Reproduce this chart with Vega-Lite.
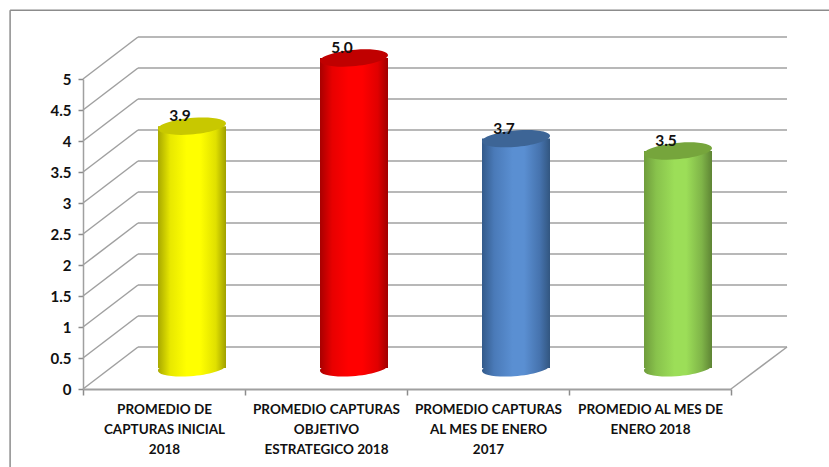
{
"$schema":"https://vega.github.io/schema/vega-lite/v6.json",
"autosize":"none","width":648,"height":310,
"padding":{"left":83,"top":79,"right":98,"bottom":78},
"background":"white",
"config":{"view":{"stroke":null}},
"datasets":{
"bars":[
{"name":"PROMEDIO DE|CAPTURAS INICIAL|2018","value":3.9,"s":"a"},
{"name":"PROMEDIO CAPTURAS|OBJETIVO|ESTRATEGICO 2018","value":5.0,"s":"b"},
{"name":"PROMEDIO CAPTURAS|AL MES DE ENERO|2017","value":3.7,"s":"c"},
{"name":"PROMEDIO AL MES DE|ENERO 2018","value":3.5,"s":"d"}],
"levels":[{"v":0},{"v":0.5},{"v":1},{"v":1.5},{"v":2},{"v":2.5},{"v":3},{"v":3.5},{"v":4},{"v":4.5},{"v":5}],
"frame":[{"left":-0.45,"right":4.61,"top":6.11,"bottom":-1.26}]
},
"layer":[
{"layer":[
{"data":{"name":"frame"},"mark":{"type":"rule","color":"#8c8c8c","strokeWidth":1.5},
 "encoding":{"x":{"field":"left","type":"quantitative","scale":{"domain":[0,4],"nice":false,"zero":false},"axis":null},
 "y":{"field":"top","type":"quantitative","scale":{"domain":[0,5],"nice":false},"axis":{"title":null,"values":[0,0.5,1,1.5,2,2.5,3,3.5,4,4.5,5],"tickCount":11,"format":".1~f","labelOverlap":false,"labelFont":"Lato","labelFontWeight":"bold","labelFontSize":15,"labelColor":"#111111","labelPadding":7,"tickSize":5,"tickColor":"#8c8c8c","tickWidth":1.5,"domainColor":"#a0a0a0","domainWidth":1.5,"grid":false}},"y2":{"field":"bottom"}}},
{"data":{"name":"frame"},"mark":{"type":"rule","color":"#8c8c8c","strokeWidth":1.5},
 "encoding":{"x":{"field":"left","type":"quantitative"},"x2":{"field":"right"},
 "y":{"field":"top","type":"quantitative"}}},
{"data":{"name":"levels"},
 "mark":{"type":"rule","color":"#a0a0a0","strokeWidth":1.5,"xOffset":55,"x2Offset":56,"yOffset":-42,"y2Offset":-42},
 "encoding":{"x":{"datum":0,"type":"quantitative"},"x2":{"datum":4},
 "y":{"field":"v","type":"quantitative"},"y2":{"field":"v"}}},
{"data":{"name":"levels"},
 "mark":{"type":"rule","color":"#a0a0a0","strokeWidth":1.5,"x2Offset":55,"y2Offset":-42},
 "encoding":{"x":{"datum":0,"type":"quantitative"},"x2":{"datum":0},
 "y":{"field":"v","type":"quantitative"},"y2":{"field":"v"}}},
{"data":{"values":[{"v":0}]},
 "mark":{"type":"rule","color":"#a0a0a0","strokeWidth":1.5,"x2Offset":56,"y2Offset":-42},
 "encoding":{"x":{"datum":4,"type":"quantitative"},"x2":{"datum":4},
 "y":{"field":"v","type":"quantitative"},"y2":{"field":"v"}}}
]},
{"data":{"name":"bars"},
"encoding":{
 "x":{"field":"name","type":"nominal","sort":null,"scale":{"paddingInner":0,"paddingOuter":0},
  "axis":{"orient":"bottom","title":null,"labelAngle":0,"labelExpr":"split(datum.label,'|')","labelFont":"Lato","labelFontWeight":"bold","labelFontSize":13.5,"labelColor":"#111111","labelLimit":175,"labelLineHeight":20,"labelPadding":7,"tickBand":"extent","tickSize":6,"tickColor":"#8c8c8c","tickWidth":1.5,"domainColor":"#a0a0a0","domainWidth":2,"grid":false}},
 "y":{"field":"value","type":"quantitative","axis":{"title":null,"values":[0,0.5,1,1.5,2,2.5,3,3.5,4,4.5,5],"tickCount":11,"format":".1~f","labelOverlap":false,"labelFont":"Lato","labelFontWeight":"bold","labelFontSize":15,"labelColor":"#111111","labelPadding":7,"tickSize":5,"tickColor":"#8c8c8c","tickWidth":1.5,"domainColor":"#a0a0a0","domainWidth":1.5,"grid":false}}
},
"layer":[
{"transform":[{"filter":"datum.s=='a'"}],"mark":{"type":"bar","width":68,"xOffset":28,"yOffset":-21,"y2Offset":-21,"color":{"gradient":"linear","x1":0,"x2":1,"y1":0,"y2":0,"stops":[{"offset":0,"color":"#a8a800"},{"offset":0.18,"color":"#e8e800"},{"offset":0.42,"color":"#ffff00"},{"offset":0.62,"color":"#ffff00"},{"offset":0.85,"color":"#e0e000"},{"offset":1,"color":"#a0a000"}]}}},
{"transform":[{"filter":"datum.s=='b'"}],"mark":{"type":"bar","width":68,"xOffset":28,"yOffset":-21,"y2Offset":-21,"color":{"gradient":"linear","x1":0,"x2":1,"y1":0,"y2":0,"stops":[{"offset":0,"color":"#a80000"},{"offset":0.18,"color":"#e80000"},{"offset":0.42,"color":"#ff0000"},{"offset":0.62,"color":"#ff0000"},{"offset":0.85,"color":"#e00000"},{"offset":1,"color":"#a00000"}]}}},
{"transform":[{"filter":"datum.s=='c'"}],"mark":{"type":"bar","width":68,"xOffset":28,"yOffset":-21,"y2Offset":-21,"color":{"gradient":"linear","x1":0,"x2":1,"y1":0,"y2":0,"stops":[{"offset":0,"color":"#335a8a"},{"offset":0.18,"color":"#4a7ab8"},{"offset":0.45,"color":"#5a8fd2"},{"offset":0.62,"color":"#5a8fd2"},{"offset":0.85,"color":"#4673ae"},{"offset":1,"color":"#325680"}]}}},
{"transform":[{"filter":"datum.s=='d'"}],"mark":{"type":"bar","width":68,"xOffset":28,"yOffset":-21,"y2Offset":-21,"color":{"gradient":"linear","x1":0,"x2":1,"y1":0,"y2":0,"stops":[{"offset":0,"color":"#6f9c3c"},{"offset":0.18,"color":"#88c24c"},{"offset":0.45,"color":"#9cde58"},{"offset":0.62,"color":"#9cde58"},{"offset":0.85,"color":"#7fb448"},{"offset":1,"color":"#5e8434"}]}}},
{"transform":[{"filter":"datum.s=='a'"}],"mark":{"type":"point","filled":true,"opacity":1,"size":4624,"xOffset":28,"shape":"M -1 0.07 A 1 0.24 -5 1 0 1 -0.07 A 1 0.24 -5 1 0 -1 0.07 Z","color":{"gradient":"linear","x1":0,"x2":1,"y1":0,"y2":0,"stops":[{"offset":0,"color":"#a8a800"},{"offset":0.18,"color":"#e8e800"},{"offset":0.42,"color":"#ffff00"},{"offset":0.62,"color":"#ffff00"},{"offset":0.85,"color":"#e0e000"},{"offset":1,"color":"#a0a000"}]}},"encoding":{"y":{"datum":0.34,"type":"quantitative"}}},
{"transform":[{"filter":"datum.s=='a'"}],"mark":{"type":"point","filled":true,"opacity":1,"size":4624,"xOffset":28,"yOffset":-21,"shape":"M -1 0.07 A 1 0.24 -5 1 0 1 -0.07 A 1 0.24 -5 1 0 -1 0.07 Z","color":"#c8c800"}},
{"transform":[{"filter":"datum.s=='b'"}],"mark":{"type":"point","filled":true,"opacity":1,"size":4624,"xOffset":28,"shape":"M -1 0.07 A 1 0.24 -5 1 0 1 -0.07 A 1 0.24 -5 1 0 -1 0.07 Z","color":{"gradient":"linear","x1":0,"x2":1,"y1":0,"y2":0,"stops":[{"offset":0,"color":"#a80000"},{"offset":0.18,"color":"#e80000"},{"offset":0.42,"color":"#ff0000"},{"offset":0.62,"color":"#ff0000"},{"offset":0.85,"color":"#e00000"},{"offset":1,"color":"#a00000"}]}},"encoding":{"y":{"datum":0.34,"type":"quantitative"}}},
{"transform":[{"filter":"datum.s=='b'"}],"mark":{"type":"point","filled":true,"opacity":1,"size":4624,"xOffset":28,"yOffset":-21,"shape":"M -1 0.07 A 1 0.24 -5 1 0 1 -0.07 A 1 0.24 -5 1 0 -1 0.07 Z","color":"#c00000"}},
{"transform":[{"filter":"datum.s=='c'"}],"mark":{"type":"point","filled":true,"opacity":1,"size":4624,"xOffset":28,"shape":"M -1 0.07 A 1 0.24 -5 1 0 1 -0.07 A 1 0.24 -5 1 0 -1 0.07 Z","color":{"gradient":"linear","x1":0,"x2":1,"y1":0,"y2":0,"stops":[{"offset":0,"color":"#335a8a"},{"offset":0.18,"color":"#4a7ab8"},{"offset":0.45,"color":"#5a8fd2"},{"offset":0.62,"color":"#5a8fd2"},{"offset":0.85,"color":"#4673ae"},{"offset":1,"color":"#325680"}]}},"encoding":{"y":{"datum":0.34,"type":"quantitative"}}},
{"transform":[{"filter":"datum.s=='c'"}],"mark":{"type":"point","filled":true,"opacity":1,"size":4624,"xOffset":28,"yOffset":-21,"shape":"M -1 0.07 A 1 0.24 -5 1 0 1 -0.07 A 1 0.24 -5 1 0 -1 0.07 Z","color":"#3d6596"}},
{"transform":[{"filter":"datum.s=='d'"}],"mark":{"type":"point","filled":true,"opacity":1,"size":4624,"xOffset":28,"shape":"M -1 0.07 A 1 0.24 -5 1 0 1 -0.07 A 1 0.24 -5 1 0 -1 0.07 Z","color":{"gradient":"linear","x1":0,"x2":1,"y1":0,"y2":0,"stops":[{"offset":0,"color":"#6f9c3c"},{"offset":0.18,"color":"#88c24c"},{"offset":0.45,"color":"#9cde58"},{"offset":0.62,"color":"#9cde58"},{"offset":0.85,"color":"#7fb448"},{"offset":1,"color":"#5e8434"}]}},"encoding":{"y":{"datum":0.34,"type":"quantitative"}}},
{"transform":[{"filter":"datum.s=='d'"}],"mark":{"type":"point","filled":true,"opacity":1,"size":4624,"xOffset":28,"yOffset":-21,"shape":"M -1 0.07 A 1 0.24 -5 1 0 1 -0.07 A 1 0.24 -5 1 0 -1 0.07 Z","color":"#76a53c"}},
{"mark":{"type":"text","font":"Lato","fontWeight":"bold","fontSize":15.5,"color":"#111111","xOffset":16,"yOffset":-31},
 "encoding":{"text":{"field":"value","type":"quantitative","format":".1f"}}}
]}
],
"resolve":{"scale":{"x":"independent","y":"shared"},"axis":{"x":"independent","y":"shared"}}
}
